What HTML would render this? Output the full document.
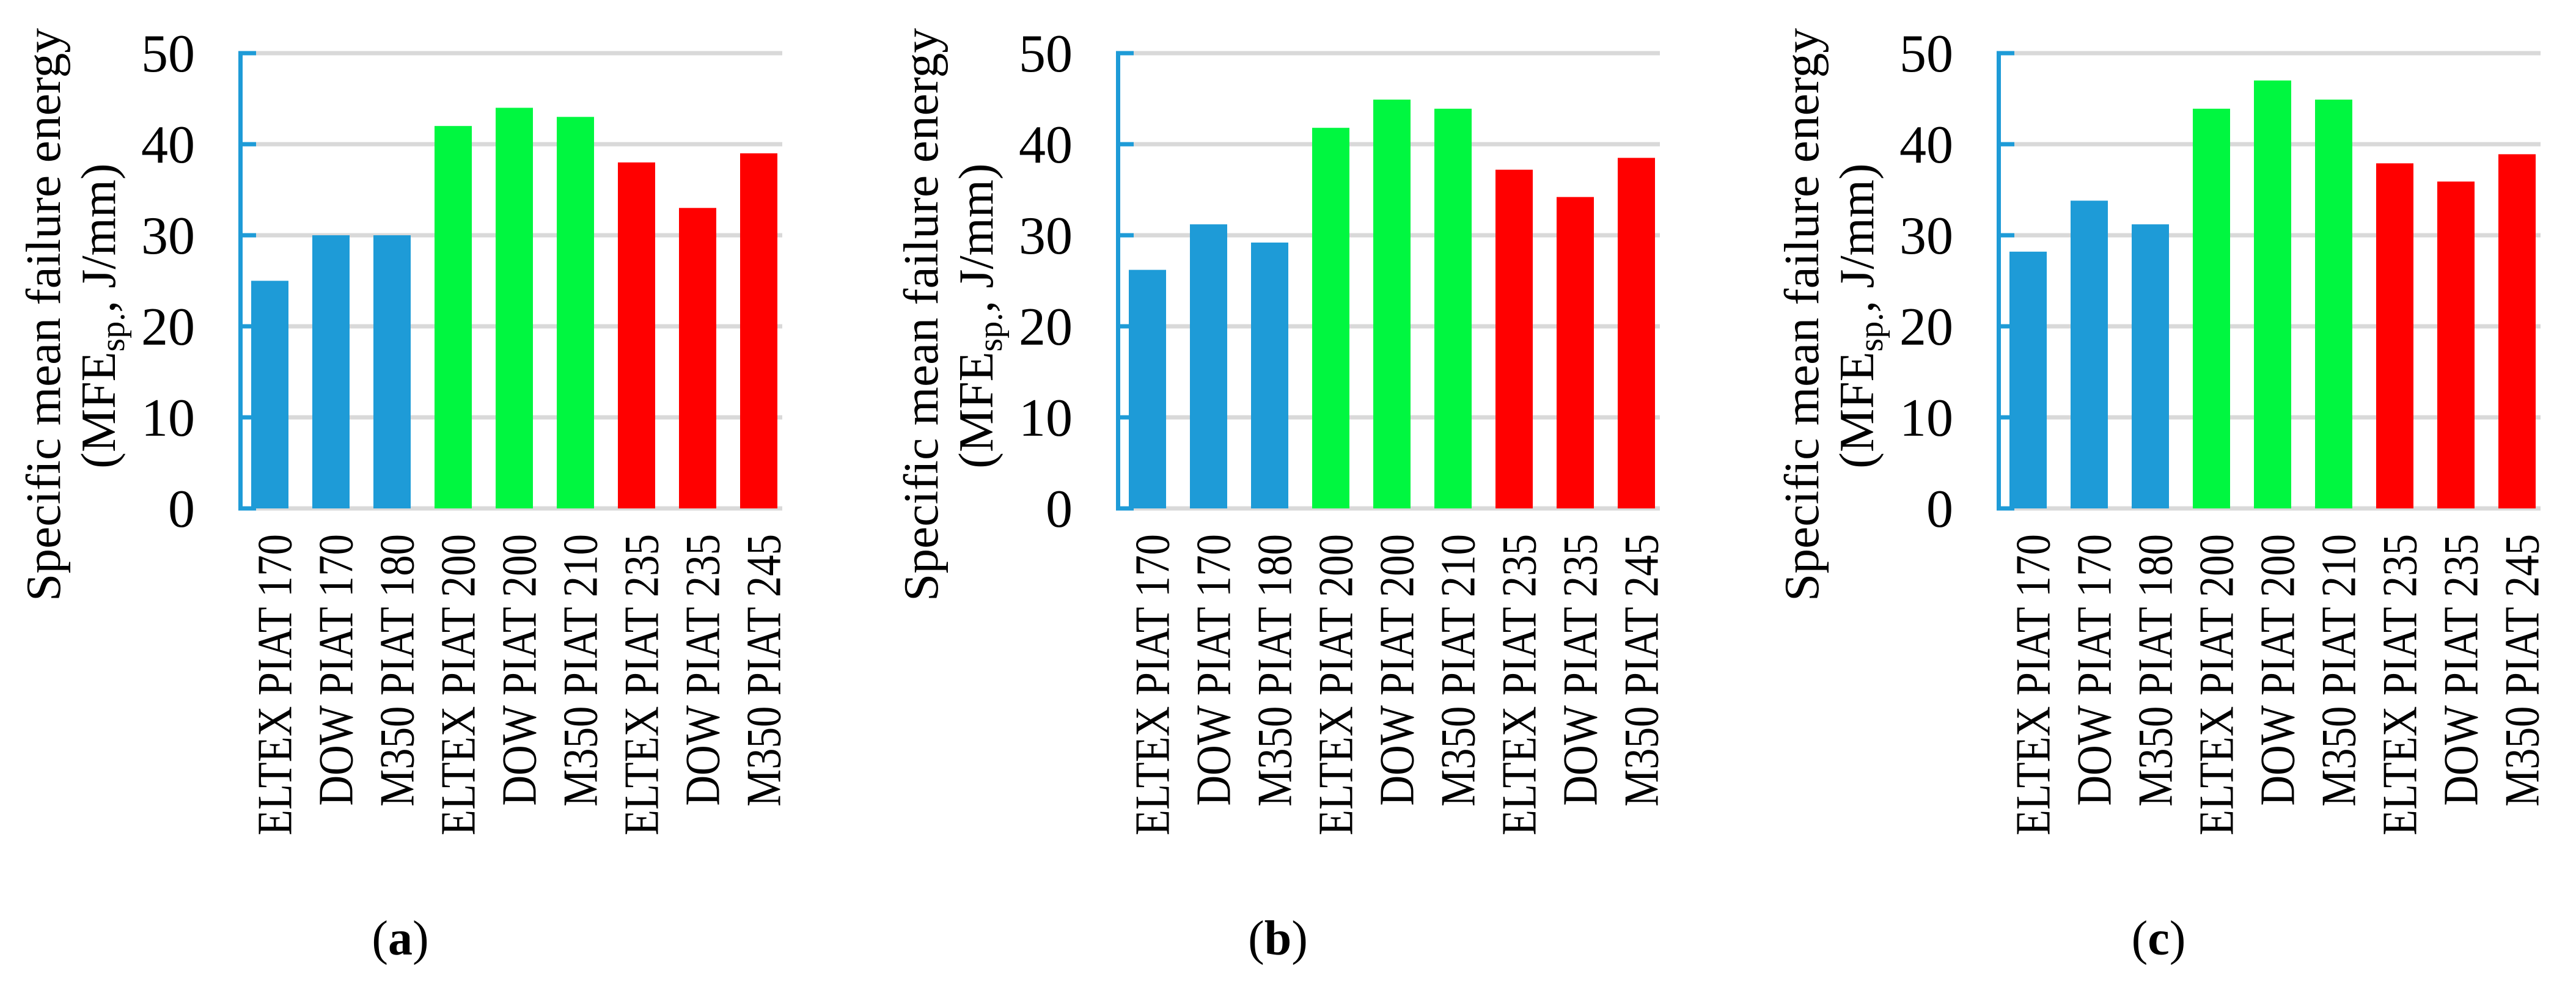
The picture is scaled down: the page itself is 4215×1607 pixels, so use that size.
<!DOCTYPE html>
<html><head><meta charset="utf-8"><style>
html,body{margin:0;padding:0;background:#fff;}
svg{display:block;}
text{font-family:"Liberation Serif",serif;fill:#000;}
</style></head>
<body>
<svg id="fig" width="4215" height="1607" viewBox="0 0 4215 1607" xmlns="http://www.w3.org/2000/svg"></svg>
<script>
const categories = ["ELTEX PIAT 170","DOW PIAT 170","M350 PIAT 180","ELTEX PIAT 200","DOW PIAT 200","M350 PIAT 210","ELTEX PIAT 235","DOW PIAT 235","M350 PIAT 245"];
const groupOfBar = ["low","low","low","mid","mid","mid","high","high","high"];
const valuesA = [25,30,30,42,44,43,38,33,39];
const valuesB = [26.2,31.2,29.2,41.8,44.9,43.9,37.2,34.2,38.5];
const valuesC = [28.2,33.8,31.2,43.9,47,44.9,37.9,35.9,38.9];
const yTicks = [0,10,20,30,40,50];
const panelLabels = ["a","b","c"];

const NS = "http://www.w3.org/2000/svg";
const svg = document.getElementById("fig");
const colors = {low:"#1E9BD7", mid:"#00F740", high:"#FF0000"};
const offsets = [0,1436,2877];
const Y0 = 832, Y50 = 87, AX = 393.5, GX2 = 1280;
function yScale(v){ return Y0 - (v/50)*(Y0-Y50); }
function xCenter(i){ return 441.5 + i*100; }
function mk(tag, attrs, parent){ const e=document.createElementNS(NS,tag); for(const k in attrs) e.setAttribute(k,attrs[k]); (parent||svg).appendChild(e); return e; }

[valuesA,valuesB,valuesC].forEach((vals,p)=>{
  const g = mk("g",{transform:"translate("+offsets[p]+",0)"});
  
  
  yTicks.forEach(t=>{
    const y=yScale(t);
    const gl=mk("line",{x1:AX,x2:GX2,y1:y,y2:y,stroke:"#D9D9D9","stroke-width":7},g);
    
    
    const tk=mk("line",{x1:AX,x2:419,y1:y,y2:y,stroke:"#1E9BD7","stroke-width":7},g);
    
    
    const tl=mk("text",{x:319,y:y+30,"text-anchor":"end","font-size":88},g);
    tl.textContent=t;
    
    
  });
  const ax=mk("line",{x1:AX,x2:AX,y1:Y50-3.5,y2:Y0+3.5,stroke:"#1E9BD7","stroke-width":7},g);
  
  
  vals.forEach((v,i)=>{
    const cx=xCenter(i), y=yScale(v);
    const r=mk("rect",{x:cx-30.5,y:y,width:61,height:Y0-y,fill:colors[groupOfBar[i]]},g);
    
    
    const t=mk("text",{x:0,y:0,"text-anchor":"end","font-size":80,transform:"translate("+(cx+35)+",874) rotate(-90) scale(0.86,1)"},g);
    t.textContent=categories[i];
    
    
  });
  const t1=mk("text",{x:0,y:0,"text-anchor":"middle","font-size":80,textLength:938,lengthAdjust:"spacingAndGlyphs",transform:"translate(98,515) rotate(-90)"},g);
  t1.textContent="Specific mean failure energy";
  
  
  const t2=mk("text",{x:0,y:0,"text-anchor":"middle","font-size":80,transform:"translate(188,517) rotate(-90)"},g);
  
  
  t2.innerHTML='(MFE<tspan font-size="56" dy="15">sp.</tspan><tspan dy="-15">, J/mm)</tspan>';
  const pl=mk("text",{x:655,y:1562,"text-anchor":"middle","font-size":80},g);
  
  
  pl.innerHTML='(<tspan font-weight="bold">'+panelLabels[p]+'</tspan>)';
});
</script>
</body></html>
